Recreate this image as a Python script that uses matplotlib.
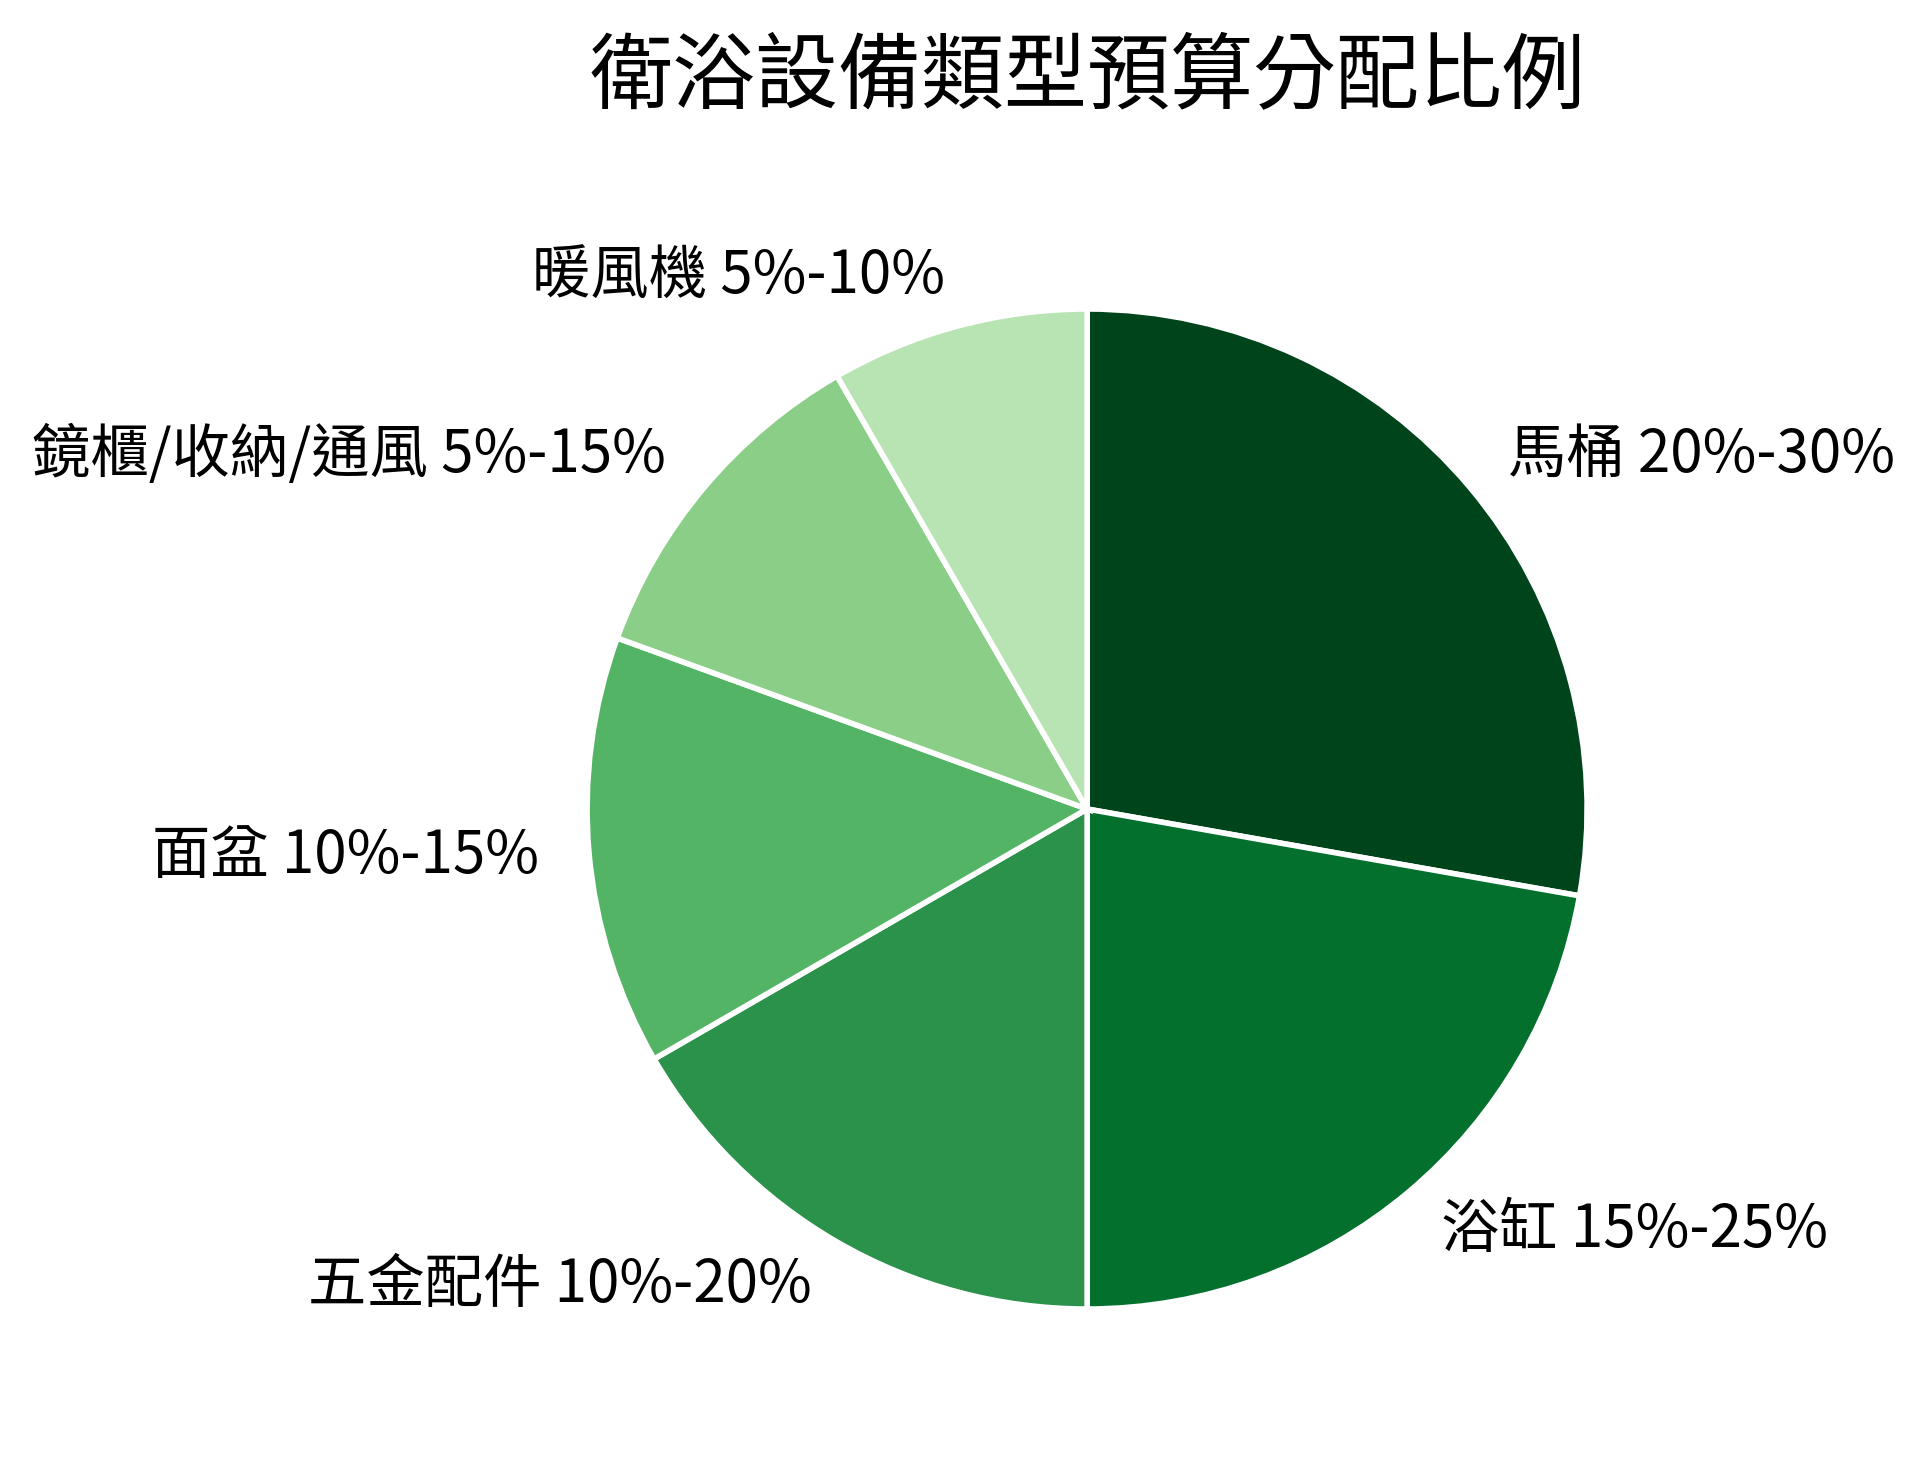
import matplotlib
matplotlib.use('Agg')
import matplotlib.pyplot as plt
import numpy as np

plt.rcParams['font.family'] = ['Noto Sans CJK TC', 'DejaVu Sans']

# data
categories = ['馬桶', '浴缸', '五金配件', '面盆', '鏡櫃/收納/通風', '暖風機']
ranges = ['20%-30%', '15%-25%', '10%-20%', '10%-15%', '5%-15%', '5%-10%']
values = [25, 20, 15, 12.5, 10, 7.5]

labels = [f'{c} {r}' for c, r in zip(categories, ranges)]
colors = plt.cm.Greens(np.linspace(1.0, 0.3, len(values)))

fig = plt.figure(figsize=(9.64, 7.34), dpi=200)
ax = fig.add_axes([0.3045, 0.1083, 0.5187, 0.6812])
ax.pie(values, labels=labels, colors=colors, startangle=90, counterclock=False,
       labeldistance=1.1, wedgeprops={'edgecolor': 'white', 'linewidth': 2},
       textprops={'fontsize': 21, 'color': 'black'})
ax.set_xlim(-1, 1)
ax.set_ylim(-1, 1)
ax.set_aspect('equal')

fig.text(0.564, 0.947, '衛浴設備類型預算分配比例', ha='center', va='center', fontsize=29.9)

fig.savefig('out.png', dpi=200)
